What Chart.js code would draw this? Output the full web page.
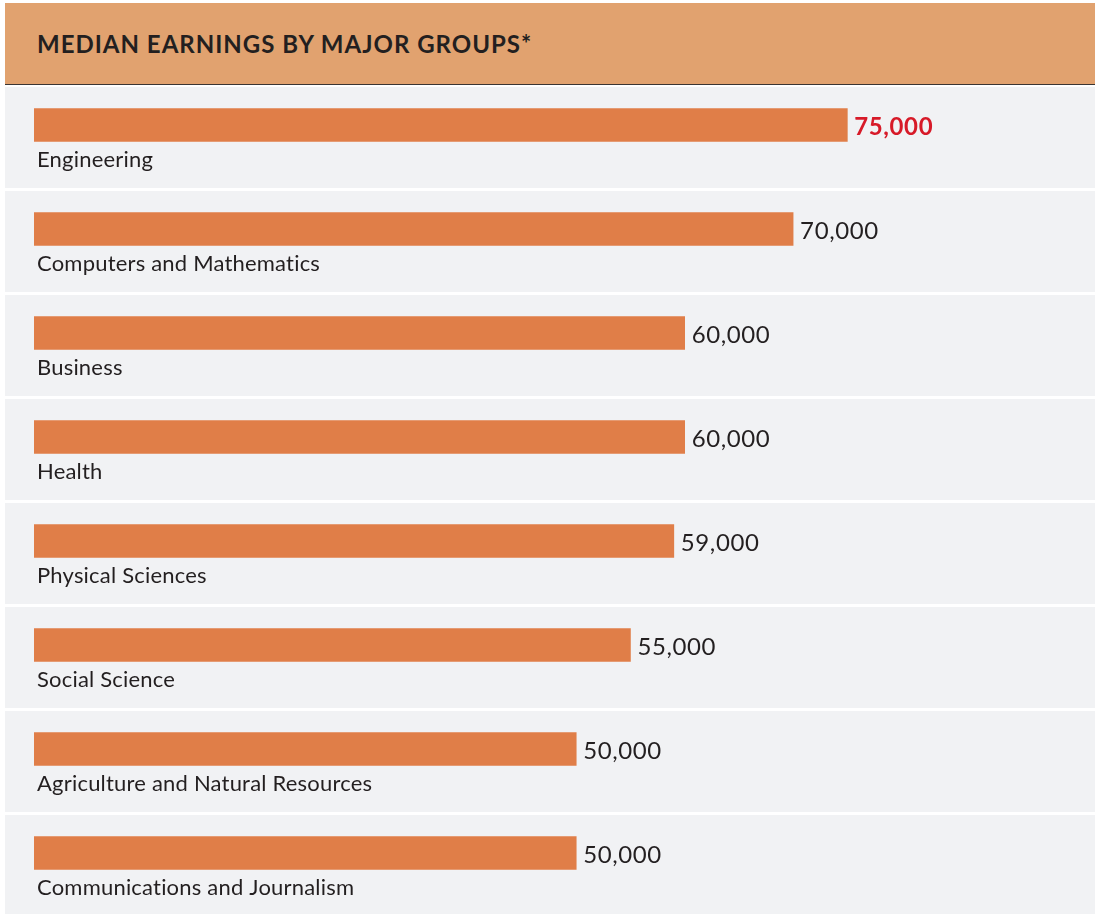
<!DOCTYPE html>
<html>
<head>
<meta charset="utf-8">
<script src="https://cdn.jsdelivr.net/npm/chart.js@4.4.0/dist/chart.umd.min.js"></script>
<style>
  body { margin: 0; background: #fff; }
  .wrap { position: relative; width: 1095px; height: 914px; }
  .head {
    position: absolute; left: 5px; top: 3px; width: 1090px; height: 82px;
    background: #E1A26F; border-bottom: 1px solid #3a3533;
    font-family: Lato, sans-serif; font-weight: 700; font-size: 24px; letter-spacing: 1px;
    color: #231F20; line-height: 82px; padding-left: 32px; box-sizing: border-box;
    z-index: 2;
  }
  canvas { position: absolute; left: 0; top: 0; }
</style>
</head>
<body>
<div class="wrap">
  <div class="head">MEDIAN EARNINGS BY MAJOR GROUPS*</div>
  <canvas id="earn"></canvas>
</div>
<script>
const majors = ['Engineering', 'Computers and Mathematics', 'Business', 'Health',
  'Physical Sciences', 'Social Science', 'Agriculture and Natural Resources',
  'Communications and Journalism'];
const earnings = [75000, 70000, 60000, 60000, 59000, 55000, 50000, 50000];

// grey row panels behind every bar
const panels = {
  id: 'panels',
  beforeDraw(chart) {
    const { ctx, scales: { y } } = chart;
    const band = y.getPixelForValue(1) - y.getPixelForValue(0);
    ctx.save();
    ctx.fillStyle = '#F1F2F4';
    majors.forEach((m, i) => {
      const top = y.getPixelForValue(i) - band / 2 + 14;
      ctx.fillRect(5, top, 1090, band - 3);
    });
    ctx.restore();
  }
};

// category name under bar + value at bar end
const labelsPlugin = {
  id: 'labelsPlugin',
  afterDatasetsDraw(chart) {
    const { ctx } = chart;
    const meta = chart.getDatasetMeta(0);
    ctx.save();
    ctx.textBaseline = 'middle';
    meta.data.forEach((bar, i) => {
      ctx.fillStyle = '#231F20';
      ctx.font = '22px Lato, sans-serif';
      ctx.letterSpacing = '0.2px';
      ctx.fillText(majors[i], 37, bar.y + 35);
      if (i === 0) {
        ctx.fillStyle = '#D71A28';
        ctx.font = 'bold 24px Lato, sans-serif';
      } else {
        ctx.fillStyle = '#231F20';
        ctx.font = '24px Lato, sans-serif';
      }
      ctx.letterSpacing = '0.6px';
      ctx.fillText(earnings[i].toLocaleString('en-US'), bar.x + 7, bar.y + 2);
    });
    ctx.restore();
  }
};

const config = {
  type: 'bar',
  data: {
    labels: majors,
    datasets: [{
      data: earnings,
      backgroundColor: '#E07E48',
      barThickness: 33,
      borderWidth: 0
    }]
  },
  options: {
    indexAxis: 'y',
    responsive: false,
    animation: false,
    layout: { padding: { top: 73, bottom: 9, left: 34, right: 85 } },
    plugins: { legend: { display: false }, tooltip: { enabled: false } },
    scales: {
      x: { display: false, min: 0, max: 90000 },
      y: { display: false, offset: true }
    }
  },
  plugins: [panels, labelsPlugin]
};

const cv = document.getElementById('earn');
cv.width = 1095;
cv.height = 914;
new Chart(cv, config);
</script>
</body>
</html>
